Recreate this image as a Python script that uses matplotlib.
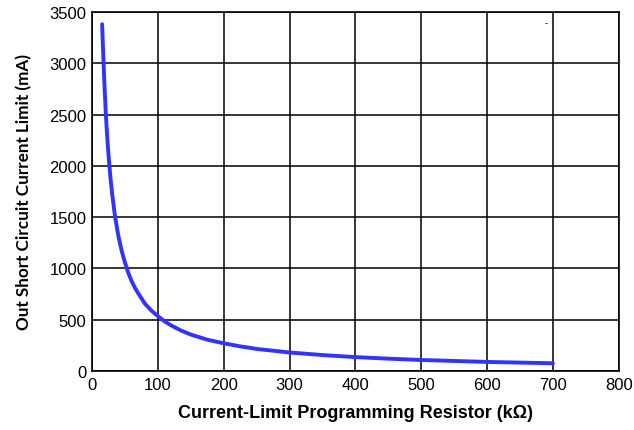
import matplotlib
matplotlib.use("Agg")
import matplotlib.pyplot as plt

# 读取自图像的数据点 (电阻 kΩ, 电流 mA)
resistor_kohm = [15.5, 17, 19, 21, 23, 25, 28, 31, 35, 40, 45, 50, 55, 60, 65, 70, 80, 90,
                 100, 110, 120, 135, 150, 175, 200, 225, 250, 300, 350, 400, 450, 500,
                 600, 700]
current_ma = [3380, 3110, 2790, 2520, 2300, 2120, 1890, 1710, 1510, 1320, 1175, 1060,
              960, 880, 815, 760, 660, 590, 535, 485, 445, 395, 355, 305, 270, 240,
              215, 180, 155, 135, 120, 107, 88, 75]

x_ticks = [0, 100, 200, 300, 400, 500, 600, 700, 800]
y_ticks = [0, 500, 1000, 1500, 2000, 2500, 3000, 3500]

fig = plt.figure(figsize=(6.34, 4.31), dpi=100)
ax = fig.add_axes([0.145, 0.137, 0.831, 0.833])

ax.plot(resistor_kohm, current_ma, '-', color='#3333FF', linewidth=2.8,
        solid_capstyle='round', solid_joinstyle='round', zorder=3)

ax.set_xlim(0, 800)
ax.set_ylim(0, 3500)
ax.set_xticks(x_ticks)
ax.set_yticks(y_ticks)
ax.grid(True, color='black', linewidth=1.1)
ax.set_axisbelow(True)
for s in ax.spines.values():
    s.set_color('black')
    s.set_linewidth(1.2)
ax.tick_params(length=0, pad=4, labelsize=12)
for lab in ax.get_xticklabels() + ax.get_yticklabels():
    lab.set_family('Liberation Sans')

ax.set_xlabel('Current-Limit Programming Resistor (kΩ)', fontsize=13,
              fontweight='bold', family='Liberation Sans', labelpad=9)
ax.set_ylabel('Out Short Circuit Current Limit (mA)', fontsize=12.3,
              fontweight='bold', family='Lato', labelpad=12)

# 图中右上角的小短线
ax.text(689, 3392, '-', fontsize=6, ha='center', va='center')

fig.savefig('out.png', dpi=100)
plt.close(fig)
